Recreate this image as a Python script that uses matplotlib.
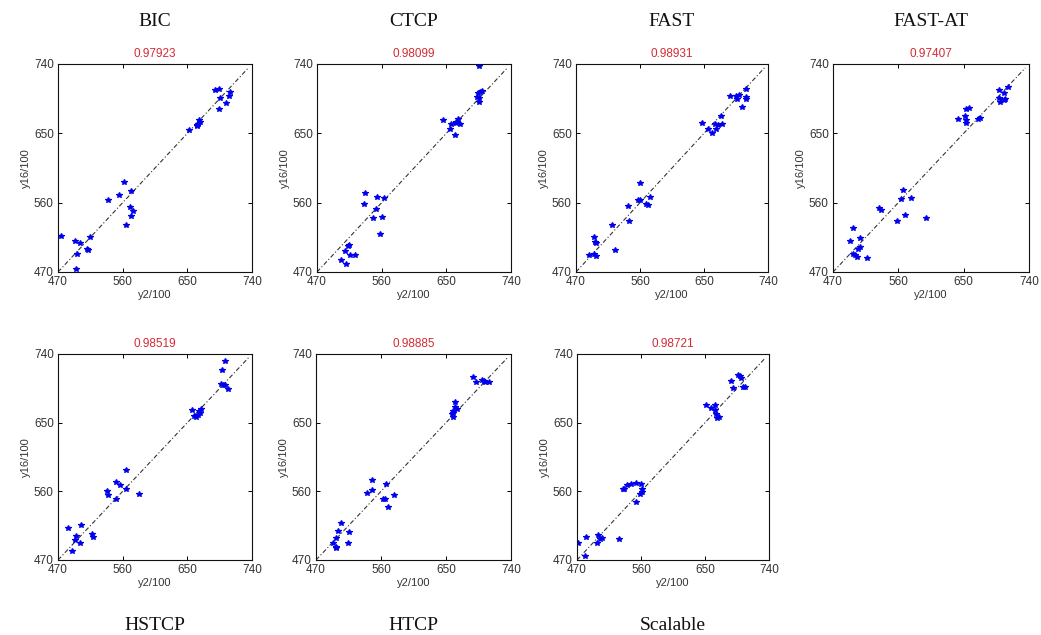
import matplotlib
matplotlib.use("Agg")
import matplotlib.pyplot as plt

# Scatter of y16/100 against y2/100 for each congestion-control variant
names = ["BIC", "CTCP", "FAST", "FAST-AT", "HSTCP", "HTCP", "Scalable"]
corr_labels = ["0.97923", "0.98099", "0.98931", "0.97407", "0.98519", "0.98885", "0.98721"]
ticks = [470, 560, 650, 740]
diag_range = [470, 735]

bic_x = [474.6, 493, 501, 514, 512, 511, 496, 495, 540, 555, 562, 571, 570, 572, 575, 565,
         653, 663, 665, 667, 666, 663, 688, 694, 696, 694, 704, 708, 709]
bic_y = [517, 510, 507, 516, 499, 500, 493, 474, 564, 570, 587, 575, 555, 543, 549, 531,
         654, 660, 662, 665, 667, 661, 706, 708, 696, 682, 690, 698, 704]

ctcp_x = [695, 693.6, 697, 700, 696, 695, 693, 645, 656.5, 663, 664, 666.5, 669, 655, 662.5,
          537, 535, 553.5, 563, 552.6, 548, 560.5, 557, 514, 513, 509.4, 516, 523, 503, 511]
ctcp_y = [737.4, 702.5, 704, 705, 696, 691, 697, 667.7, 662.5, 663, 664.5, 668.5, 662.5, 656, 648,
          572, 558, 567, 566, 552, 540, 541.7, 519.6, 505, 504, 497, 492, 492, 486, 480.5]

fast_x = [487.7, 496, 498.5, 497, 496, 498.5, 525, 521, 545, 543.5, 557, 560.6, 560, 568, 571, 574,
          646.6, 656, 660.6, 665, 667.5, 669, 674.6, 676, 687, 695.6, 697, 699, 703.6, 708.7, 709.6, 709]
fast_y = [492.6, 516, 508, 509, 494, 491, 499, 531.6, 536, 555.5, 563, 564, 585.6, 558.5, 557, 568,
          664, 656, 651, 662, 656, 660.6, 672, 662, 698, 698, 695, 700, 684, 708, 697.6, 694]

fastat_x = [494, 497.5, 497.5, 500, 503.6, 504.6, 507, 507, 517, 533.6, 535.5, 558.5, 568.6, 563.5,
            566.7, 578, 598, 642.8, 652, 653, 653.5, 653.5, 658, 670, 672.7, 698, 698, 699.5, 705,
            705, 706.5, 710.5]
fastat_y = [510, 527, 493, 492, 489, 500, 502, 514, 488, 553, 551, 536.5, 543.4, 565,
            576.7, 566, 540, 669, 672.6, 667, 664, 681, 682.5, 668, 669.6, 706, 695.5, 691, 702,
            693, 694.5, 709.8]

hstcp_x = [484, 502.5, 494.6, 493, 501, 490, 517.8, 518.7, 538, 539.6, 551, 556.7, 551, 565, 564, 582.7,
           657, 659, 662, 665, 666, 667, 669, 696.4, 698.7, 703, 700, 703, 706.6]
hstcp_y = [512.4, 515.5, 501, 496.6, 492, 482, 504, 500, 560, 555, 572, 568, 549.5, 587.6, 562.6, 556.5,
           667, 659, 657, 660, 665, 663, 668, 701, 718.5, 730.8, 700, 699, 693.6]

htcp_x = [493, 497, 497, 498, 500, 505, 514, 516, 541, 547, 548, 563, 565.6, 567.4, 569, 577.6,
          658, 659, 660, 662, 663, 665, 660, 687, 691, 699.6, 702, 704, 709]
htcp_y = [492.7, 498.3, 487.5, 485.3, 508, 519, 491.8, 507, 557.4, 574.8, 561.7, 549.9, 549.9, 569.6,
          539.9, 555.2, 661, 657, 665, 670, 677, 668, 663, 710, 703, 706, 704, 703, 703]

scalable_x = [472, 481, 483, 499.5, 498.6, 502.8, 505, 529.5, 534, 535.5, 540, 546, 553, 553, 558.5,
              560.4, 561, 560.9, 651, 658.6, 664, 664, 665.6, 666.6, 669, 686.6, 690, 696, 698.6, 701,
              703, 705.6]
scalable_y = [492.8, 475.3, 500.7, 503.4, 492, 497.6, 498.5, 498, 563, 562.7, 567.7, 569, 571, 546, 557,
              569, 563.5, 559, 673, 669, 673, 666, 662, 656, 657.7, 704.4, 694.8, 713, 711.5, 709,
              697.4, 697.4]

series = [(bic_x, bic_y), (ctcp_x, ctcp_y), (fast_x, fast_y), (fastat_x, fastat_y),
          (hstcp_x, hstcp_y), (htcp_x, htcp_y), (scalable_x, scalable_y)]

W, H = 1041, 635
fig = plt.figure(figsize=(W / 100, H / 100), dpi=100)
fig.patch.set_facecolor("white")

# axes boxes in pixels: left, top, right, bottom
boxes = [(58, 64, 252, 272), (317, 64, 511, 272), (576, 64, 768, 272), (833, 64, 1029, 272),
         (58, 354, 252, 560), (316, 354, 511, 560), (577, 354, 769, 560)]

sans = "Liberation Sans"
serif = "Liberation Serif"

for i, ((l, t, r, b), (xs, ys)) in enumerate(zip(boxes, series)):
    ax = fig.add_axes([l / W, 1 - b / H, (r - l) / W, (b - t) / H])
    ax.plot(diag_range, diag_range, color="#333333", lw=0.8, zorder=1,
            dashes=(4, 2, 1, 2))
    ax.plot(xs, ys, linestyle="none", marker="*", markersize=4, color="#0000ee",
            markeredgewidth=0.9, zorder=2)
    ax.set_xlim(ticks[0], ticks[-1])
    ax.set_ylim(ticks[0], ticks[-1])
    ax.set_xticks(ticks)
    ax.set_yticks(ticks)
    ax.tick_params(direction="in", length=3, width=0.7, top=True, right=True,
                   labelsize=8.5, labelcolor="#333333")
    ax.tick_params(axis="x", pad=3)
    ax.tick_params(axis="y", pad=3)
    for lab in ax.get_xticklabels() + ax.get_yticklabels():
        lab.set_fontfamily(sans)
    for sp in ax.spines.values():
        sp.set_linewidth(0.8)
        sp.set_color("#111111")
    ax.set_xlabel("y2/100", fontsize=8, family=sans, color="#333333", labelpad=1)
    ax.set_ylabel("y16/100", fontsize=8, family=sans, color="#333333", labelpad=2)
    ax.set_title(corr_labels[i], fontsize=8.5, family=sans, color="#d42a33", pad=5)

    cx = (l + r) / 2 / W
    ny = 22 if i < 4 else 625
    fig.text(cx, 1 - ny / H, names[i], ha="center", va="center",
             fontsize=14, family=serif, color="#111111")

fig.savefig("out.png", dpi=100, facecolor="white")
